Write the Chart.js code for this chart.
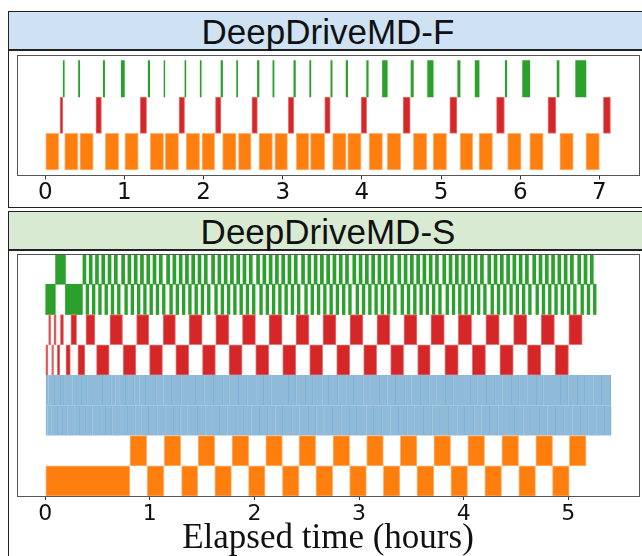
<!DOCTYPE html>
<html>
<head>
<meta charset="utf-8">
<script src="https://cdn.jsdelivr.net/npm/chart.js@4.4.0/dist/chart.umd.min.js"></script>
<style>
  body { margin: 0; width: 642px; height: 556px; overflow: hidden; background: #fff; position: relative; }
  .panel { position: absolute; left: 8px; width: 640px; border: 1.5px solid #222; box-sizing: border-box; }
  .head { height: 37px; border-bottom: 2px solid #222; text-align: center; line-height: 37px;
          font: 35px "Liberation Sans", Arial, sans-serif; color: #111; }
  canvas { position: absolute; left: 10px; }
</style>
</head>
<body>
<div class="panel" style="top:11px;height:197px"><div class="head" style="background:#cfe2f3">DeepDriveMD-F</div></div>
<div class="panel" style="top:211px;height:360px"><div class="head" style="background:#d9ead3">DeepDriveMD-S</div></div>
<canvas id="chartF" width="632" height="155" style="top:52px"></canvas>
<canvas id="chartS" width="632" height="304" style="top:252px"></canvas>
<script>
// ---- DeepDriveMD-F : task intervals (hours) ----
const fTicks = [0, 1, 2, 3, 4, 5, 6, 7]
const fOrange = [[0.00,0.17],[0.245,0.413],[0.438,0.606],[0.758,0.927],[1.006,1.174],[1.326,1.495],[1.515,1.684],
  [1.78,1.95],[1.98,2.14],[2.24,2.41],[2.44,2.60],[2.70,2.87],[2.90,3.06],[3.17,3.33],[3.35,3.53],[3.63,3.80],
  [3.82,3.99],[4.09,4.26],[4.32,4.49],[4.65,4.82],[4.90,5.07],[5.24,5.40],[5.48,5.65],[5.84,6.01],[6.12,6.29],
  [6.50,6.67],[6.83,7.00]]
const fRed = [[0.186,0.223],[0.64,0.71],[1.20,1.28],[1.69,1.76],[2.15,2.22],[2.61,2.68],[3.07,3.14],[3.53,3.60],
  [3.99,4.06],[4.52,4.61],[5.11,5.20],[5.70,5.80],[6.35,6.45],[7.05,7.14]]
const fGreen = [[0.227,0.24],[0.42,0.435],[0.732,0.75],[0.96,1.0],[1.30,1.32],[1.50,1.51],[1.764,1.776],
  [1.957,1.97],[2.22,2.24],[2.417,2.43],[2.68,2.70],[2.875,2.89],[3.14,3.16],[3.34,3.355],[3.607,3.624],
  [3.80,3.82],[4.06,4.08],[4.26,4.32],[4.62,4.65],[4.83,4.90],[5.21,5.24],[5.43,5.48],[5.81,5.83],[6.03,6.12],
  [6.465,6.49],[6.70,6.83]]

// ---- DeepDriveMD-S ----
const sTicks = [0, 1, 2, 3, 4, 5]
const sOrange2 = [[0,0.809],[0.974,1.134],[1.303,1.458],[1.621,1.78],[1.943,2.101],[2.267,2.426],[2.588,2.748],
  [2.91,3.07],[3.232,3.39],[3.553,3.715],[3.878,4.037],[4.202,4.362],[4.527,4.687],[4.849,5.009]]
const sOrange1 = [[0.81,0.971],[1.137,1.296],[1.461,1.621],[1.786,1.946],[2.108,2.267],[2.426,2.585],[2.751,2.91],
  [3.073,3.232],[3.394,3.553],[3.715,3.875],[4.04,4.20],[4.365,4.525],[4.69,4.85],[5.01,5.17]]
const sBlue2Cuts = [0,0.02,0.06,0.12,0.17,0.21,0.28,0.33,0.39,0.45,0.52,0.58,0.64,0.72,0.79,0.86,0.92,0.99,1.07,
  1.15,1.23,1.29,1.36,1.46,1.53,1.59,1.67,1.74,1.82,1.90,1.97,2.05,2.13,2.20,2.27,2.36,2.43,2.52,2.59,2.67,2.75,
  2.83,2.91,2.98,3.07,3.14,3.22,3.30,3.38,3.46,3.53,3.62,3.70,3.77,3.86,3.94,4.01,4.10,4.17,4.25,4.33,4.41,4.49,
  4.57,4.64,4.73,4.80,4.88,4.96,5.04,5.12,5.19,5.27,5.35,5.41]
const sBlue1Cuts = [0,0.03,0.09,0.15,0.18,0.26,0.30,0.35,0.40,0.51,0.55,0.63,0.67,0.71,0.77,0.85,0.90,0.96,1.06,
  1.13,1.21,1.30,1.38,1.44,1.52,1.61,1.70,1.76,1.85,1.93,2.02,2.09,2.16,2.25,2.33,2.40,2.49,2.56,2.65,2.71,2.80,
  2.88,2.95,3.04,3.11,3.20,3.27,3.35,3.44,3.50,3.59,3.67,3.74,3.83,3.90,3.98,4.07,4.13,4.22,4.30,4.37,4.46,4.53,
  4.61,4.70,4.76,4.85,4.93,5.00,5.09,5.16,5.24,5.32,5.406]
const sRed2 = [[0,0.026],[0.061,0.08],[0.115,0.14],[0.198,0.24],[0.312,0.379],[0.49,0.611],[0.745,0.866],
  [0.997,1.121],[1.248,1.372],[1.503,1.627],[1.757,1.882],[2.012,2.137],[2.27,2.395],[2.528,2.652],[2.786,2.911],
  [3.044,3.168],[3.302,3.426],[3.56,3.68],[3.82,3.948],[4.082,4.209],[4.346,4.474],[4.61,4.737],[4.875,5.002]]
const sRed1 = [[0.032,0.052],[0.083,0.105],[0.145,0.175],[0.245,0.30],[0.389,0.475],[0.618,0.739],[0.873,0.99],
  [1.127,1.245],[1.375,1.50],[1.63,1.755],[1.885,2.01],[2.139,2.264],[2.397,2.521],[2.655,2.779],[2.913,3.037],
  [3.171,3.295],[3.429,3.553],[3.687,3.815],[3.948,4.076],[4.212,4.34],[4.477,4.604],[4.741,4.868],[5.005,5.133]]
const sGreen2Blocks = [[0,0.096],[0.193,0.355]]
const sGreen2Starts = [0.39,0.45,0.51,0.57,0.63,0.69,0.76,0.82,0.88,0.94,1.00,1.06,1.12,1.19,1.25,1.31,1.37,1.43,
  1.49,1.55,1.62,1.68,1.74,1.80,1.86,1.92,1.98,2.05,2.11,2.17,2.23,2.29,2.35,2.41,2.48,2.54,2.60,2.66,2.72,2.78,
  2.84,2.90,2.97,3.03,3.09,3.15,3.21,3.27,3.33,3.40,3.46,3.52,3.58,3.64,3.70,3.76,3.83,3.89,3.95,4.01,4.07,4.13,
  4.19,4.26,4.32,4.38,4.44,4.50,4.56,4.62,4.69,4.75,4.81,4.87,4.93,4.99,5.05,5.12,5.18,5.24]
const sGreen2Len = 0.026
const sGreen1Blocks = [[0.099,0.193]]
const sGreen1Starts = [0.36,0.42,0.48,0.54,0.60,0.66,0.73,0.79,0.85,0.91,0.97,1.03,1.09,1.16,1.22,1.28,1.34,1.40,
  1.46,1.52,1.59,1.65,1.71,1.77,1.83,1.89,1.95,2.02,2.08,2.14,2.20,2.26,2.32,2.38,2.45,2.51,2.57,2.63,2.69,2.75,
  2.81,2.87,2.94,3.00,3.06,3.12,3.18,3.24,3.30,3.37,3.43,3.49,3.55,3.61,3.67,3.73,3.80,3.86,3.92,3.98,4.04,4.10,
  4.16,4.23,4.29,4.35,4.41,4.47,4.53,4.59,4.66,4.72,4.78,4.84,4.90,4.96,5.02,5.09,5.15,5.21]
const sGreen1Len = 0.029

const ORANGE = '#ff7f0e', RED = '#d62728', GREEN = '#2ca02c', BLUE = '#8fbbd9'

function toRow(pairs, row) {
  return pairs.map(p => ({ x: [p[0], p[1]], y: row }))
}
function cutsToPairs(cuts) {
  let out = []
  for (let i = 0; i < cuts.length - 1; i++) out.push([cuts[i], cuts[i + 1]])
  return out
}
function startsToPairs(starts, len) {
  return starts.map(s => [s, s + len])
}

function barSet(pairs, row, bg, border, bw) {
  return {
    data: toRow(pairs, row),
    backgroundColor: bg,
    borderColor: border,
    borderWidth: bw,
    borderSkipped: false,
    barPercentage: 1,
    categoryPercentage: 1,
    grouped: false
  }
}

// axes frame like matplotlib spines
const framePlugin = {
  id: 'frame',
  afterDatasetsDraw(chart) {
    const a = chart.chartArea, ctx = chart.ctx
    ctx.save()
    ctx.strokeStyle = '#555'
    ctx.lineWidth = 1
    ctx.strokeRect(Math.round(a.left) + 0.5, Math.round(a.top) + 0.5,
      Math.round(a.right - a.left), Math.round(a.bottom - a.top))
    ctx.restore()
  }
}

function getOptions(xmin, xmax, ticks, ymin, ymax, rows, tickSize, tickPad, pad, title) {
  return {
    indexAxis: 'y',
    responsive: false,
    animation: false,
    devicePixelRatio: 1,
    events: [],
    layout: { padding: pad },
    plugins: { legend: { display: false }, tooltip: { enabled: false } },
    scales: {
      x: {
        type: 'linear', min: xmin, max: xmax, offset: false,
        afterBuildTicks: ax => { ax.ticks = ticks.map(v => ({ value: v })) },
        grid: { display: true, offset: false, drawOnChartArea: false, drawTicks: true, tickLength: 4, tickColor: '#333' },
        border: { display: false },
        ticks: { color: '#111', padding: tickPad, maxRotation: 0, font: { family: 'DejaVu Sans', size: tickSize } },
        title: title
      },
      y: {
        type: 'linear', display: false, min: ymin, max: ymax, offset: false,
        grid: { offset: false },
        afterBuildTicks: ax => { ax.ticks = rows.map(v => ({ value: v })) }
      }
    }
  }
}

// Panel F
new Chart(document.getElementById('chartF'), {
  type: 'bar',
  data: {
    datasets: [
      barSet(fOrange, 0, ORANGE, '#ffb57a', 1),
      barSet(fRed, 1, RED, '#e57778', 1),
      barSet(fGreen, 2, GREEN, GREEN, 0)
    ]
  },
  options: getOptions(-0.357, 7.5, fTicks, -0.65, 2.65, [0, 1, 2], 23, 0,
    { left: 7, right: 3, top: 3, bottom: 0 }, { display: false }),
  plugins: [framePlugin]
})

// Panel S
new Chart(document.getElementById('chartS'), {
  type: 'bar',
  data: {
    datasets: [
      barSet(sOrange2, 0, ORANGE, '#ffb57a', 1),
      barSet(sOrange1, 1, ORANGE, '#ffb57a', 1),
      barSet(cutsToPairs(sBlue2Cuts), 2, BLUE, '#7cafd4', { left: 0, right: 1, top: 0, bottom: 0 }),
      barSet(cutsToPairs(sBlue1Cuts), 3, BLUE, '#7cafd4', { left: 0, right: 1, top: 0, bottom: 0 }),
      barSet(sRed2, 4, RED, '#e57778', 1),
      barSet(sRed1, 5, RED, '#e57778', 1),
      barSet(sGreen2Blocks.concat(startsToPairs(sGreen2Starts, sGreen2Len)), 6, GREEN, GREEN, 0),
      barSet(sGreen1Blocks.concat(startsToPairs(sGreen1Starts, sGreen1Len)), 7, GREEN, GREEN, 0)
    ]
  },
  options: getOptions(-0.27, 5.676, sTicks, -0.5, 7.5, [0, 1, 2, 3, 4, 5, 6, 7], 22, 1,
    { left: 7, right: 3, top: 2, bottom: 0 },
    { display: true, text: 'Elapsed time (hours)', color: '#111',
      font: { family: 'Liberation Serif', size: 35, lineHeight: 1 }, padding: { top: -7.5, bottom: 0 } }),
  plugins: [framePlugin]
})
</script>
</body>
</html>
